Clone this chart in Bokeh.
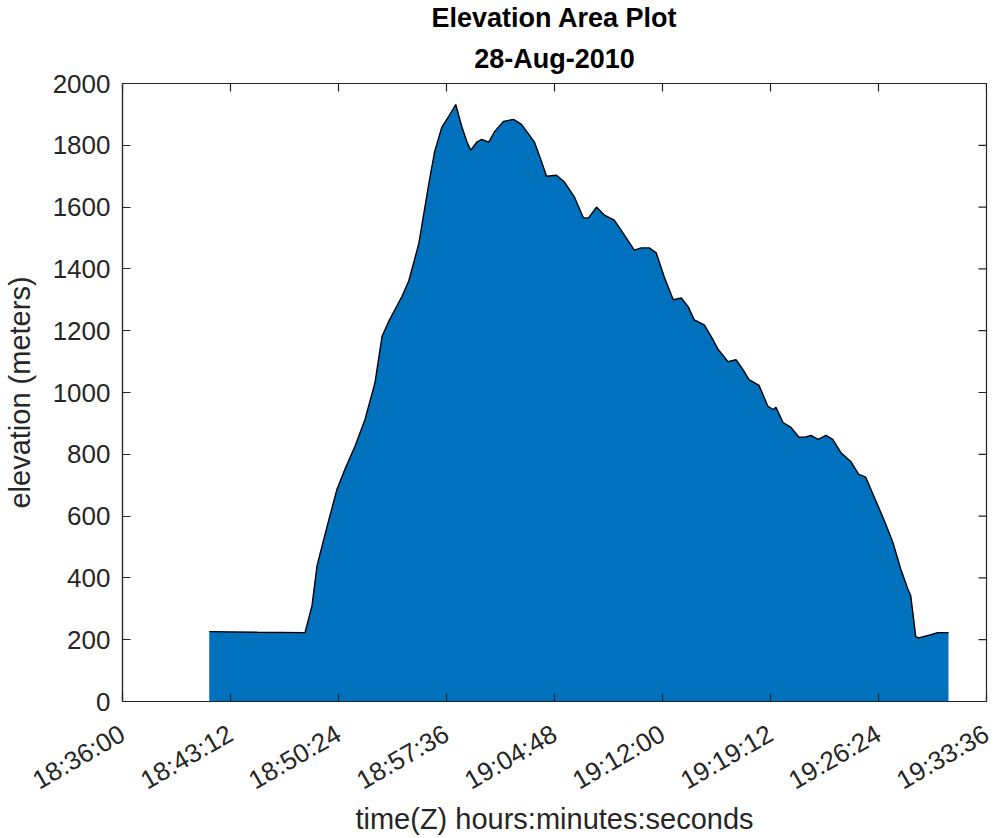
import math
import pandas as pd
from bokeh.plotting import figure
from bokeh.models import (FixedTicker, DatetimeTickFormatter, Title, Range1d, ColumnDataSource)
from bokeh.embed import file_html
from bokeh.resources import INLINE

DATE = "2010-08-28"

times = [
    "18:41:47", "18:44:59", "18:48:10", "18:48:38", "18:48:58", "18:49:18", "18:49:46",
    "18:50:18", "18:50:50", "18:51:30", "18:52:10", "18:52:50", "18:53:18", "18:53:46",
    "18:54:37", "18:55:05", "18:55:45", "18:56:25", "18:56:49", "18:57:17", "18:57:45",
    "18:58:13", "18:58:37", "18:58:57", "18:59:13", "18:59:37", "18:59:57", "19:00:25",
    "19:00:49", "19:01:24", "19:02:04", "19:02:36", "19:03:28", "19:03:56", "19:04:16",
    "19:04:56", "19:05:28", "19:06:08", "19:06:44", "19:07:04", "19:07:36", "19:08:08",
    "19:08:47", "19:09:27", "19:10:07", "19:10:35", "19:11:07", "19:11:35", "19:12:07",
    "19:12:43", "19:13:15", "19:13:43", "19:14:07", "19:14:47", "19:15:15", "19:15:43",
    "19:16:22", "19:16:54", "19:17:22", "19:17:46", "19:18:26", "19:19:02", "19:19:22",
    "19:19:34", "19:20:02", "19:20:34", "19:21:06", "19:21:26", "19:21:54", "19:22:22",
    "19:22:54", "19:23:21", "19:23:53", "19:24:33", "19:25:05", "19:25:33", "19:26:05",
    "19:26:45", "19:27:21", "19:27:53", "19:28:21", "19:28:33", "19:28:53", "19:29:05",
    "19:29:53", "19:30:21", "19:31:04",
]

elevation = [
    226, 224, 223, 310, 439, 503, 590,
    687, 752, 826, 913, 1032, 1181, 1232,
    1310, 1361, 1481, 1674, 1781, 1858, 1894,
    1932, 1861, 1813, 1784, 1810, 1819, 1810,
    1845, 1877, 1884, 1868, 1810, 1748, 1700,
    1703, 1681, 1632, 1565, 1565, 1600, 1574,
    1558, 1510, 1461, 1468, 1468, 1452, 1374,
    1300, 1306, 1277, 1235, 1219, 1181, 1139,
    1100, 1106, 1074, 1042, 1023, 955, 945,
    952, 903, 887, 855, 855, 861, 848,
    861, 848, 806, 777, 735, 726, 665,
    590, 516, 429, 365, 342, 210, 206,
    216, 223, 223,
]

x_tick_labels = ["18:36:00", "18:43:12", "18:50:24", "18:57:36", "19:04:48",
                 "19:12:00", "19:19:12", "19:26:24", "19:33:36"]
y_ticks = [0, 200, 400, 600, 800, 1000, 1200, 1400, 1600, 1800, 2000]

title_line1 = "Elevation Area Plot"
title_line2 = "28-Aug-2010"
x_label = "time(Z) hours:minutes:seconds"
y_label = "elevation (meters)"

t = pd.to_datetime([f"{DATE} {s}" for s in times])
src = ColumnDataSource(dict(t=t, elev=elevation, base=[0] * len(elevation)))

tick_ts = [pd.Timestamp(f"{DATE} {s}") for s in x_tick_labels]
tick_ms = [ts.value / 1e6 for ts in tick_ts]

FONT = "Liberation Sans"
AX = "#262626"

p = figure(width=1000, height=838, x_axis_type="datetime", title=None,
           output_backend="svg", toolbar_location=None,
           x_range=Range1d(tick_ts[0], tick_ts[-1]),
           y_range=Range1d(y_ticks[0], y_ticks[-1]),
           min_border_left=120, min_border_right=14, min_border_top=83, min_border_bottom=135)

p.varea(x="t", y1="base", y2="elev", source=src, fill_color="#0072BD")
p.line(x="t", y="elev", source=src, line_color="black", line_width=1.4)

# inward tick marks on the top and right edges of the box (half of each dash is clipped)
p.scatter(x=tick_ts, y=[y_ticks[-1]] * len(tick_ts), marker="dash", angle=math.pi / 2,
          size=16, line_color=AX, line_width=1.2)
p.scatter(x=[tick_ts[-1]] * len(y_ticks), y=y_ticks, marker="dash", angle=0,
          size=16, line_color=AX, line_width=1.2)

p.xgrid.visible = False
p.ygrid.visible = False
p.outline_line_color = AX
p.outline_line_width = 1.2

xticker = FixedTicker(ticks=tick_ms)
yticker = FixedTicker(ticks=y_ticks)
fmt = "%H:%M:%S"
xfmt = DatetimeTickFormatter(microseconds=fmt, milliseconds=fmt, seconds=fmt, minsec=fmt,
                             minutes=fmt, hourmin=fmt, hours=fmt, days=fmt, months=fmt, years=fmt)


def style(ax):
    ax.major_tick_in = 8
    ax.major_tick_out = 0
    ax.minor_tick_in = 0
    ax.minor_tick_out = 0
    ax.axis_line_color = AX
    ax.axis_line_width = 1.2
    ax.major_tick_line_color = AX
    ax.major_tick_line_width = 1.2
    ax.major_label_text_color = AX
    ax.major_label_text_font = FONT
    ax.major_label_text_font_size = "26px"
    ax.axis_label_text_font = FONT
    ax.axis_label_text_font_style = "normal"
    ax.axis_label_text_font_size = "29px"
    ax.axis_label_text_color = AX


xa = p.xaxis[0]
xa.ticker = xticker
xa.formatter = xfmt
style(xa)
xa.major_label_orientation = 0.5236
xa.major_label_standoff = 30
xa.axis_label = x_label
xa.axis_label_standoff = -8

ya = p.yaxis[0]
ya.ticker = yticker
style(ya)
ya.major_label_standoff = 12
ya.axis_label = y_label
ya.axis_label_standoff = 14

p.add_layout(Title(text=title_line2, align="center", text_font=FONT, text_font_size="27px",
                   text_font_style="bold", text_color="black", standoff=19), "above")
p.add_layout(Title(text=title_line1, align="center", text_font=FONT, text_font_size="27px",
                   text_font_style="bold", text_color="black", standoff=0), "above")

open("out.html", "w").write(file_html(p, INLINE))
